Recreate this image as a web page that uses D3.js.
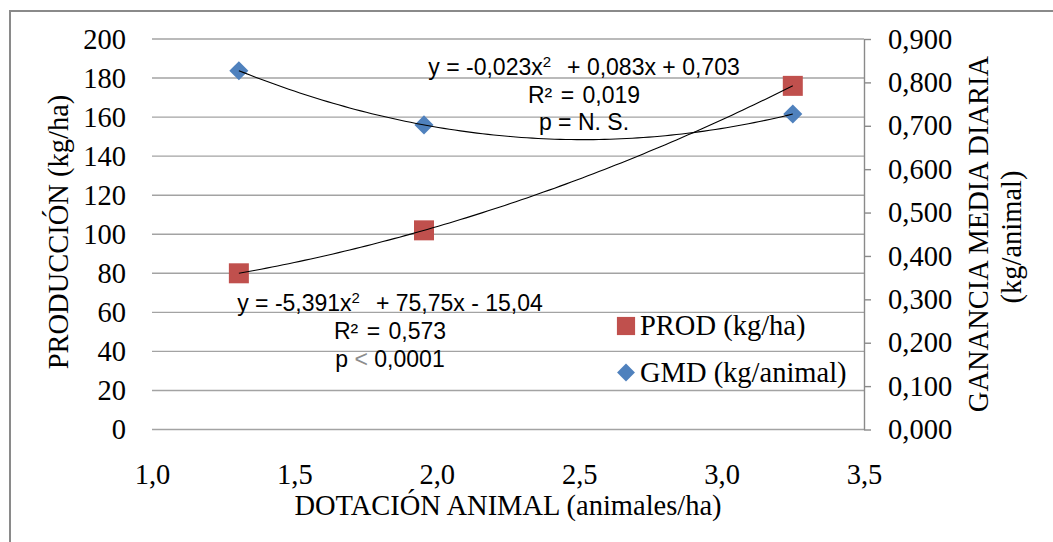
<!DOCTYPE html>
<html>
<head>
<meta charset="utf-8">
<script src="https://cdn.jsdelivr.net/npm/d3@7"></script>
<style>
  html, body { margin: 0; padding: 0; background: #fff; }
  svg { display: block; }
  .serif { font-family: "Liberation Serif", "Times New Roman", serif; font-size: 28.5px; fill: #000; }
  .sans { font-family: "Liberation Sans", Arial, sans-serif; font-size: 23px; fill: #000; }
</style>
</head>
<body>
<svg id="chart" width="1053" height="542"></svg>
<script>
// ---- data ----
const dotacion = [1.305, 1.955, 3.25];          // animales/ha
const prodValues = [80, 102, 176];               // PROD (kg/ha)
const gmdValues = [0.827, 0.702, 0.727];         // GMD (kg/animal)
const xTicks = [1.0, 1.5, 2.0, 2.5, 3.0, 3.5];
const leftTicks = [0, 20, 40, 60, 80, 100, 120, 140, 160, 180, 200];
const rightTicks = [0, 0.1, 0.2, 0.3, 0.4, 0.5, 0.6, 0.7, 0.8, 0.9];
const seriesNames = ["PROD (kg/ha)", "GMD (kg/animal)"];
const eqProd = ["y = -5,391x", "2", "+ 75,75x - 15,04", "R² = 0,573", "p", "<", "0,0001"];
const eqGmd = ["y = -0,023x", "2", "+ 0,083x + 0,703", "R² = 0,019", "p", "=", "N. S."];

const locale = d3.formatLocale({decimal: ",", thousands: ".", grouping: [3], currency: ["", ""]});
const fmtX = locale.format(".1f");
const fmtR = locale.format(".3f");
const fmtL = locale.format("d");

const svg = d3.select("#chart");
const W = 1053, H = 542;
svg.append("rect").attr("width", W).attr("height", H).attr("fill", "#fff");
// outer frame (right/bottom edges outside the picture)
svg.append("rect").attr("x", 10).attr("y", 11).attr("width", 1100).attr("height", 600)
  .attr("fill", "none").attr("stroke", "#8a8a8a").attr("stroke-width", 2);

const x = d3.scaleLinear().domain([1, 3.5]).range([152, 864]);
const yL = d3.scaleLinear().domain([0, 200]).range([429.5, 39]);
const yR = d3.scaleLinear().domain([0, 0.9]).range([429.5, 39]);

// gridlines
svg.append("g").selectAll("line").data(leftTicks).join("line")
  .attr("x1", x(1)).attr("x2", x(3.5))
  .attr("y1", d => yL(d)).attr("y2", d => yL(d))
  .attr("stroke", "#a3a3a3").attr("stroke-width", 1.4);

// left axis
const gL = svg.append("g").attr("transform", `translate(${x(1)},0)`)
  .call(d3.axisLeft(yL).tickValues(leftTicks).tickFormat(fmtL).tickSize(0).tickPadding(26));
gL.select(".domain").remove();
gL.selectAll("text").attr("class", "serif");

// right axis
const gR = svg.append("g").attr("transform", `translate(${x(3.5)},0)`)
  .call(d3.axisRight(yR).tickValues(rightTicks).tickFormat(fmtR).tickSize(7).tickSizeOuter(0).tickPadding(17));
gR.select(".domain").attr("stroke", "#8a8a8a").attr("stroke-width", 1.4);
gR.selectAll(".tick line").attr("stroke", "#8a8a8a").attr("stroke-width", 1.4);
gR.selectAll("text").attr("class", "serif");

// bottom axis
const gB = svg.append("g").attr("transform", `translate(0,${yL(0)})`)
  .call(d3.axisBottom(x).tickValues(xTicks).tickFormat(fmtX).tickSize(0).tickPadding(34));
gB.select(".domain").remove();
gB.selectAll("text").attr("class", "serif");
svg.selectAll(".tick text").attr("fill", "#000");

// axis titles
svg.append("text").attr("class", "serif").attr("text-anchor", "middle")
  .attr("x", (x(1) + x(3.5)) / 2).attr("y", 515).text("DOTACIÓN ANIMAL (animales/ha)");
svg.append("text").attr("class", "serif").attr("text-anchor", "middle")
  .attr("transform", "translate(68,232) rotate(-90)").text("PRODUCCIÓN (kg/ha)");
svg.append("text").attr("class", "serif").attr("text-anchor", "middle")
  .attr("transform", "translate(988,234) rotate(-90)").text("GANANCIA MEDIA DIARIA");
svg.append("text").attr("class", "serif").attr("text-anchor", "middle")
  .attr("transform", "translate(1021,237) rotate(-90)").text("(kg/animal)");

// markers
const red = "#C0504D", blue = "#4F81BD";
const pts = dotacion.map((d, i) => ({x: d, p: prodValues[i], g: gmdValues[i]}));
svg.append("g").selectAll("path").data(pts).join("path")
  .attr("transform", d => `translate(${x(d.x)},${yR(d.g)}) rotate(45)`)
  .attr("d", d3.symbol(d3.symbolSquare, 182)())
  .attr("fill", blue);
svg.append("g").selectAll("path").data(pts).join("path")
  .attr("transform", d => `translate(${x(d.x)},${yL(d.p)})`)
  .attr("d", d3.symbol(d3.symbolSquare, 400)())
  .attr("fill", red);

// quadratic trendlines (least squares fit of the plotted points)
function quadFit(xs, ys) {
  const n = xs.length;
  let S = [0, 0, 0, 0, 0], T = [0, 0, 0];
  for (let i = 0; i < n; i++) {
    for (let k = 0; k < 5; k++) S[k] += Math.pow(xs[i], k);
    for (let k = 0; k < 3; k++) T[k] += ys[i] * Math.pow(xs[i], k);
  }
  const A = [[S[0], S[1], S[2], T[0]], [S[1], S[2], S[3], T[1]], [S[2], S[3], S[4], T[2]]];
  for (let c = 0; c < 3; c++) {
    for (let r = c + 1; r < 3; r++) {
      const f = A[r][c] / A[c][c];
      for (let k = c; k < 4; k++) A[r][k] -= f * A[c][k];
    }
  }
  const b = [0, 0, 0];
  for (let r = 2; r >= 0; r--) {
    let s = A[r][3];
    for (let k = r + 1; k < 3; k++) s -= A[r][k] * b[k];
    b[r] = s / A[r][r];
  }
  return v => b[0] + b[1] * v + b[2] * v * v;
}
const fP = quadFit(dotacion, prodValues);
const fG = quadFit(dotacion, gmdValues);
const xs = d3.range(0, 101).map(i => d3.min(dotacion) + (d3.max(dotacion) - d3.min(dotacion)) * i / 100);
svg.append("path").datum(xs).attr("fill", "none").attr("stroke", "#000").attr("stroke-width", 1.1)
  .attr("d", d3.line().x(d => x(d)).y(d => yL(fP(d))));
svg.append("path").datum(xs).attr("fill", "none").attr("stroke", "#000").attr("stroke-width", 1.1)
  .attr("d", d3.line().x(d => x(d)).y(d => yR(fG(d))));

// equation labels
function eqLabel(lines, cx, y0, step, opColor) {
  const t = svg.append("text").attr("class", "sans").attr("text-anchor", "middle")
    .attr("x", cx).attr("y", y0);
  t.append("tspan").text(lines[0]);
  t.append("tspan").attr("font-size", 15).attr("dy", -8).text(lines[1]);
  t.append("tspan").attr("dy", 8).attr("dx", 16).text(lines[2]);
  svg.append("text").attr("class", "sans").attr("text-anchor", "middle").attr("word-spacing", 2)
    .attr("x", cx).attr("y", y0 + step).text(lines[3]);
  const p = svg.append("text").attr("class", "sans").attr("text-anchor", "middle")
    .attr("x", cx).attr("y", y0 + 2 * step);
  p.append("tspan").text(lines[4] + " ");
  p.append("tspan").attr("fill", opColor).text(lines[5]);
  p.append("tspan").text(" " + lines[6]);
}
eqLabel(eqGmd, 584, 75, 27.5, "#000");
eqLabel(eqProd, 390, 311, 28, "#8c8c8c");

// legend
const lg = svg.append("g");
lg.append("path").attr("transform", "translate(626,326)")
  .attr("d", d3.symbol(d3.symbolSquare, 330)()).attr("fill", red);
lg.append("text").attr("class", "serif").attr("x", 640).attr("y", 335).text(seriesNames[0]);
lg.append("path").attr("transform", "translate(626,372.5) rotate(45)")
  .attr("d", d3.symbol(d3.symbolSquare, 160)()).attr("fill", blue);
lg.append("text").attr("class", "serif").attr("x", 640).attr("y", 381.5).text(seriesNames[1]);
</script>
</body>
</html>
